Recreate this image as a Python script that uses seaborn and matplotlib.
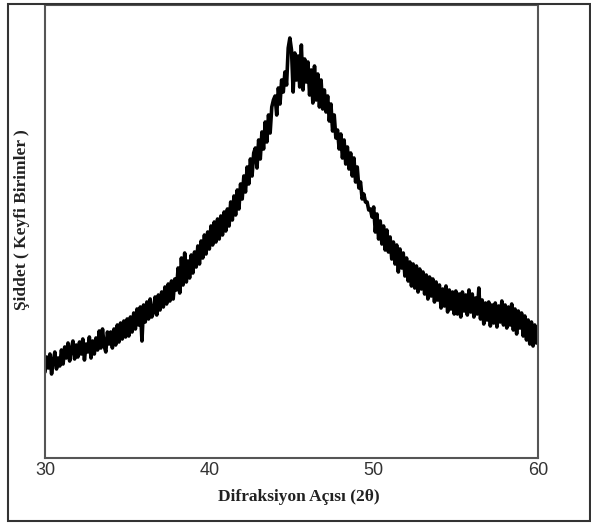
import numpy as np
import pandas as pd
import matplotlib
matplotlib.use("Agg")
import matplotlib.pyplot as plt
import seaborn as sns
from matplotlib.patches import Rectangle

# Diffraction angle (2-theta), 0.1 degree steps from 30 to 60
angle = np.round(np.arange(300, 601) / 10.0, 1)

# Intensity (arbitrary units), one row per degree
intensity = [
    86, 101, 90, 104, 84, 97, 106, 89, 100, 92,        # 30
    108, 94, 111, 100, 115, 97, 109, 117, 99, 113,     # 31
    101, 116, 104, 119, 98, 114, 106, 121, 100, 117,   # 32
    104, 120, 108, 127, 110, 129, 112, 106, 126, 114,  # 33
    126, 110, 129, 113, 133, 116, 135, 119, 137, 121,  # 34
    139, 122, 141, 126, 145, 129, 149, 133, 151, 117,  # 35
    153, 136, 156, 139, 159, 141, 146, 161, 143, 163,  # 36
    148, 166, 151, 171, 154, 174, 157, 177, 159, 179,  # 37
    168, 190, 165, 200, 173, 205, 176, 197, 180, 203,  # 38
    185, 206, 191, 212, 194, 217, 200, 223, 204, 226,  # 39
    209, 232, 213, 236, 216, 239, 219, 242, 223, 246,  # 40
    227, 249, 232, 256, 238, 262, 243, 268, 249, 274,  # 41
    259, 282, 266, 291, 274, 299, 282, 305, 310, 290,  # 42
    318, 299, 326, 309, 336, 316, 343, 325, 351, 358,  # 43
    362, 343, 370, 354, 378, 366, 386, 373, 410, 420,  # 44
    408, 366, 405, 378, 402, 371, 413, 368, 399, 376,  # 45
    396, 363, 388, 355, 392, 358, 384, 351, 378, 349,  # 46
    368, 346, 362, 337, 354, 327, 343, 320, 328, 309,  # 47
    324, 300, 318, 294, 311, 289, 305, 282, 300, 276,  # 48
    291, 270, 276, 259, 264, 256, 256, 248, 249, 241,  # 49
    251, 226, 244, 219, 237, 214, 232, 208, 228, 206,  # 50
    221, 199, 216, 194, 213, 186, 209, 190, 205, 182,  # 51
    200, 177, 196, 172, 194, 170, 192, 166, 189, 169,  # 52
    186, 164, 183, 159, 181, 162, 179, 156, 176, 158,  # 53
    173, 150, 169, 152, 172, 146, 168, 149, 166, 144,  # 54
    167, 144, 164, 141, 166, 147, 163, 143, 168, 146,  # 55
    164, 141, 160, 144, 170, 139, 158, 134, 155, 138,  # 56
    156, 132, 153, 135, 155, 131, 152, 136, 157, 133,  # 57
    153, 130, 151, 133, 154, 128, 149, 124, 147, 130,  # 58
    145, 122, 142, 118, 138, 114, 136, 112, 133, 115,  # 59
    126,                                               # 60
]

x_ticks = [30, 40, 50, 60]
x_label = "Difraksiyon Açısı (2θ)"
y_label = "Şiddet ( Keyfi Birimler )"

df = pd.DataFrame({"angle": angle, "intensity": intensity})

sns.set_style("white")
plt.rcParams["font.family"] = ["Liberation Sans", "DejaVu Sans"]

W, H = 591, 526
fig = plt.figure(figsize=(W / 100, H / 100), dpi=100)
ax = fig.add_axes([45 / W, (H - 458) / H, (538 - 45) / W, (458 - 5) / H])

sns.lineplot(data=df, x="angle", y="intensity", color="black", lw=2.6, ax=ax)

ax.set_xlim(30, 60)
ax.set_ylim(0, 453)
ax.set_xticks(x_ticks)
ax.set_xticklabels([str(t) for t in x_ticks], fontsize=13, color="#333333")
ax.set_yticks([])
ax.set_xlabel("")
ax.set_ylabel("")
ax.tick_params(axis="x", direction="in", length=5, width=1.2, color="#555555", pad=3)

for s in ax.spines.values():
    s.set_color("#555555")
    s.set_linewidth(1.5)

fig.text(299 / W, 1 - 497 / H, x_label, ha="center", va="center",
         fontsize=12.5, fontweight="bold", family=["Liberation Serif", "DejaVu Serif"], color="#222222")
fig.text(22 / W, 1 - 220 / H, y_label, ha="center", va="center", rotation=90,
         fontsize=12.5, fontweight="bold", family=["Liberation Serif", "DejaVu Serif"], color="#222222")

fig.patches.append(Rectangle((8 / W, 1 - 521 / H), (590 - 8) / W, (521 - 4) / H,
                             transform=fig.transFigure, fill=False,
                             edgecolor="#333333", linewidth=1.5))

fig.savefig("out.png", dpi=100, facecolor="white")
